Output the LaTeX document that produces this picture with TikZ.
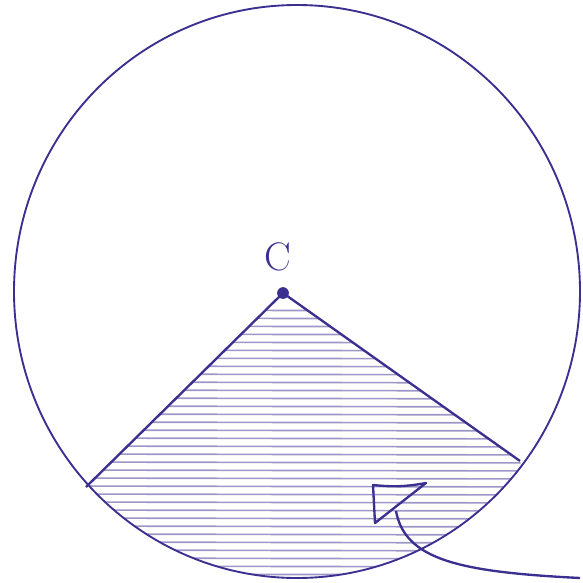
\documentclass[tikz,border=0pt]{standalone}
\usepackage{tikz}
\usetikzlibrary{arrows.meta,positioning,calc}
\usepackage{xcolor}
\definecolor{ink}{HTML}{3B2F8F}

\begin{document}
\begin{tikzpicture}[x=0.03cm, y=-0.03cm,
      pen/.style={draw=ink, line width=1.6pt},
      scribble/.style={draw=ink, line width=1.4pt, opacity=0.5, line cap=round},
      centre/.style={circle, fill=ink, inner sep=0pt, minimum size=10pt},
      lbl/.style={font=\fontsize{34}{40}\selectfont, text=ink}
    ]
      \useasboundingbox (0,0) rectangle (583,583);

      % centre and sector corners
      \node[centre] (c) at (283,293) {};
      \node[lbl] (clabel) at (278,257) {C};
      \coordinate (left) at (86,487);
      \coordinate (right) at (520,461);

      % shaded sector
      \begin{scope}
        \clip (c.center) -- (left) -- (60,600) -- (560,600) -- (right) -- cycle;
        \clip (297,291.5) ellipse [x radius=283, y radius=286.5];
        \foreach \y in {310,318,...,580}
          \draw[scribble] (60,\y) -- (560,\y+1);
      \end{scope}

      \draw[pen] (297,291.5) ellipse [x radius=283, y radius=286.5];
      \draw[pen, line width=2pt] (left) -- (c.center) -- (right);

      % small marker and its lead
      \node[inner sep=0pt] (m1) at (373,485) {};
      \node[inner sep=0pt] (m2) at (426,483) {};
      \node[inner sep=0pt] (m3) at (375,523) {};
      \draw[pen, line width=2pt, line join=round] (m1.center) to[bend right=8] (m2.center) -- (m3.center) -- cycle;
      \coordinate (lead) at (580,578);
      \draw[pen, line width=2pt] (396,511) .. controls (405,560) and (460,572) .. (lead);
    \end{tikzpicture}
\end{document}
